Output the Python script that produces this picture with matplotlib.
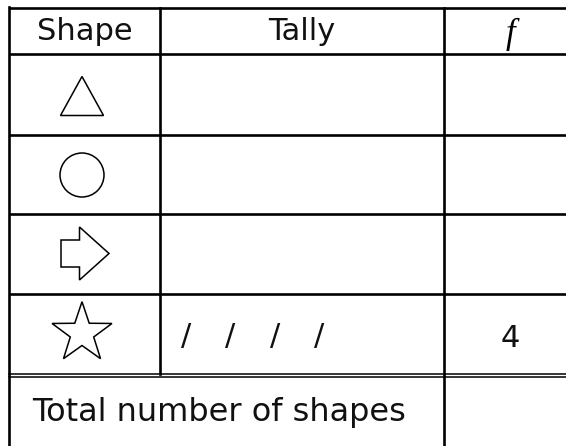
import matplotlib
matplotlib.use('Agg')
import matplotlib.pyplot as plt
import numpy as np
from matplotlib.patches import Polygon, Circle

# table content
headers = ['Shape', 'Tally', 'f']
shapes = ['triangle', 'circle', 'arrow', 'star']
tally_counts = [0, 0, 0, 4]
freq_labels = ['', '', '', '4']
total_label = 'Total number of shapes'

# layout in pixels (y grows downwards)
col_x = [9, 160, 444, 576]
row_y = [8, 54, 135, 214, 294, 375]
bottom = 460

fig = plt.figure(figsize=(5.66, 4.46), dpi=100)
ax = fig.add_axes([0, 0, 1, 1])
ax.set_xlim(0, 566)
ax.set_ylim(446, 0)
ax.axis('off')

lw = 1.9
# horizontal lines
for y in row_y[:-1]:
    ax.plot([col_x[0], col_x[-1]], [y, y], color='black', lw=lw, solid_capstyle='butt')
# double line above the total row
ax.plot([col_x[0], col_x[-1]], [row_y[-1] - 1.3, row_y[-1] - 1.3], color='black', lw=1.1)
ax.plot([col_x[0], col_x[-1]], [row_y[-1] + 1.9, row_y[-1] + 1.9], color='black', lw=1.1)
# vertical lines
ax.plot([col_x[0], col_x[0]], [row_y[0] - 0.7, bottom], color='black', lw=lw)
ax.plot([col_x[1], col_x[1]], [row_y[0], row_y[-1] - 1.3], color='black', lw=lw)
ax.plot([col_x[2], col_x[2]], [row_y[0], bottom], color='black', lw=lw)

fs = 22
font = 'DejaVu Sans'
txt_col = '#111111'
head_y = (row_y[0] + row_y[1]) / 2 + 0.5
ax.text((col_x[0] + col_x[1]) / 2, head_y, headers[0], ha='center', va='center',
        fontsize=fs, family=font, color=txt_col)
ax.text((col_x[1] + col_x[2]) / 2, head_y, headers[1], ha='center', va='center',
        fontsize=fs, family=font, color=txt_col)
ax.text(510, head_y + 3, headers[2], ha='center', va='center', fontsize=25,
        family='Liberation Serif', style='italic', color='black')

# shape drawings
cx = 82
for i, shp in enumerate(shapes):
    cy = (row_y[i + 1] + row_y[i + 2]) / 2
    if shp == 'triangle':
        pts = [(cx - 21.5, cy + 21), (cx + 21.5, cy + 21), (cx, cy - 18)]
        ax.add_patch(Polygon(pts, closed=True, fill=False, ec='black', lw=1.1))
    elif shp == 'circle':
        ax.add_patch(Circle((cx, cy + 0.5), 22, fill=False, ec='black', lw=1.1))
    elif shp == 'arrow':
        pts = [(cx - 21, cy - 14), (cx - 2.5, cy - 14), (cx - 2.5, cy - 27), (cx + 27, cy - 0.5),
               (cx - 2.5, cy + 26), (cx - 2.5, cy + 13), (cx - 21, cy + 13)]
        ax.add_patch(Polygon(pts, closed=True, fill=False, ec='black', lw=1.1))
    elif shp == 'star':
        ang = np.pi / 2 + np.arange(10) * np.pi / 5
        rad = np.where(np.arange(10) % 2 == 0, 31.5, 12.3)
        sx = cx + rad * np.cos(ang)
        sy = cy - 1.3 - rad * np.sin(ang)
        ax.add_patch(Polygon(np.column_stack([sx, sy]), closed=True, fill=False, ec='black', lw=1.1))

# tally marks and frequencies
for i, n in enumerate(tally_counts):
    cy = (row_y[i + 1] + row_y[i + 2]) / 2
    for k in range(n):
        ax.text(186 + k * 44.5, cy + 1.5, '/', ha='center', va='center', fontsize=fs,
                family=font, color=txt_col)
    if freq_labels[i]:
        ax.text(510, cy + 4, freq_labels[i], ha='center', va='center', fontsize=fs,
                family=font, color=txt_col)

ax.text(219, 412, total_label, ha='center', va='center', fontsize=23, family=font, color=txt_col)

fig.savefig('out.png', dpi=100)
